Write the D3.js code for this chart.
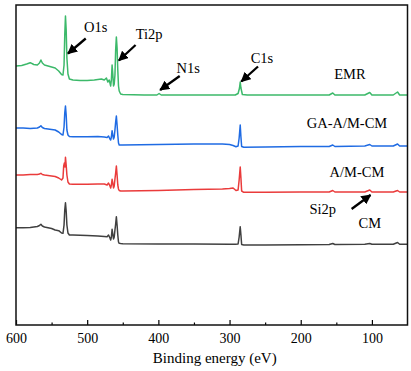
<!DOCTYPE html>
<html>
<head>
<meta charset="utf-8">
<script src="https://cdn.jsdelivr.net/npm/d3@7"></script>
<style>
    body { margin: 0; background: #fff; }
    text { font-family: "Liberation Serif", "Times New Roman", serif; fill: #000; }
</style>
</head>
<body>
<svg id="chart"></svg>
<script>
    // spectra, [binding energy (eV), stacked intensity (a.u.)]
    var emr = [[600,259],[592,259.5],[585,261],[580,262.3],[575,260.5],[570,260],[567,262],[565,265],[563,262],[560,260],[555,259],[550,258],[545,257],[540,254],[536,250.5],[534,250],[532.5,260],[531.5,290],[530.5,309],[529.5,295],[528.5,267],[527,251],[525,246],[520,245],[510,244.5],[500,244.5],[490,245],[485,245.5],[480,246],[476,245],[473,247],[471,243],[469,245],[467,239],[466,245],[465,260],[464,251],[463,239],[462,241],[461,250],[460,275],[459,288],[458,277],[457,255],[456,239],[455,234],[453,231],[450,230.5],[420,230],[402,230],[399,231.5],[396,230],[350,230],[300,230],[292,230],[288,231.5],[286,237],[285,243],[284,237],[282,230.5],[275,230],[250,230],[200,230],[160,230],[155,232],[152,230],[110,230],[103,232.5],[100,230],[70,230],[64,233],[61,230],[50,230]];
    var gaAmCm = [[600,197],[590,197],[580,196.5],[570,197],[567,198],[565,199.3],[563,197.5],[560,196.5],[550,195.5],[545,195],[540,193],[536,190.5],[534,190],[532.5,198],[531.5,212],[530.5,219],[529.5,210],[528.5,195],[527,190],[525,188.5],[520,188.3],[500,188.3],[485,188.5],[476,188],[472,187.5],[470,189],[468,186],[467,185],[466,188],[465,194.3],[464,190],[463,186],[462,188],[461,195],[460,203],[459,209],[458,200],[457,190],[456,182],[455,180],[453,180],[450,180],[400,180.5],[350,181],[310,181],[300,180.5],[295,179.5],[291,178.3],[288,179],[286.5,187],[285,200],[284,188],[283,178.5],[280,177.7],[250,178],[200,178.5],[160,178.5],[155,180],[152,178.5],[110,179],[103,180.5],[100,179],[70,179],[64,181],[61,179],[50,179]];
    var amCm = [[600,150],[590,150],[580,150.5],[570,150.5],[567,151],[565,151.7],[563,150.5],[560,150],[550,149],[545,148.5],[540,147],[536,145],[534,147],[533,159],[532,162],[531.2,158],[530.5,167.7],[529.5,160],[528.5,150],[527,143],[525,141],[520,140.7],[500,140.7],[485,141],[476,141],[472,140],[470,142],[468,139],[467,137],[466,140],[465,145.7],[464,142],[463,137],[462,139],[461,146],[460,152],[459,159],[458,150],[457,140],[456,136],[455,134.5],[453,134],[450,134],[400,134.5],[350,135.5],[310,136],[300,136.5],[295,137],[291,134.5],[288,135],[286.5,145],[285,158],[284,147],[283,134],[280,132.7],[250,132.7],[200,133],[160,133],[155,134.5],[152,133],[110,133],[103,135],[100,133],[70,133],[64,134.5],[61,133],[50,133]];
    var cm = [[600,97.3],[590,97.3],[580,97.5],[570,98.5],[567,99.5],[565,100.7],[563,99],[560,98],[550,96.5],[545,95],[540,94.3],[536,92],[534,91.7],[532.5,100],[531.5,115],[530.5,122.3],[529.5,114],[528.5,100],[527,92],[525,90],[520,90],[500,89.5],[485,89],[476,88.5],[472,88.3],[470,90],[468,87],[467,85],[466,88],[465,95.7],[464,91],[463,86],[462,88],[461,95],[460,101],[459,108.3],[458,100],[457,90],[456,83],[455,81.7],[453,81.5],[450,81.3],[400,81],[350,81],[300,80.8],[292,80.7],[288,81],[286.5,88],[285,98.3],[284,90],[283,80.5],[280,80],[250,80],[200,80.3],[160,80.5],[155,81.5],[152,80.5],[110,80.7],[103,81.5],[100,80.7],[70,80.7],[64,82.5],[61,80.7],[50,80.7]];

    var seriesNames = ["EMR", "GA-A/M-CM", "A/M-CM", "CM"];
    var seriesData = [emr, gaAmCm, amCm, cm];
    var seriesColors = ["#3cb96a", "#1f6be3", "#ea3b3b", "#404040"];

    var majorTicks = [600, 500, 400, 300, 200, 100];
    var minorTicks = [550, 450, 350, 250, 150];

    // labels in data units: [text, energy, intensity]
    var seriesLabels = [["EMR", 131, 246], ["GA-A/M-CM", 135, 196.7], ["A/M-CM", 121, 148.3], ["CM", 103, 96.7]];
    // peak callouts: [text, label energy, label intensity, arrow from E, from I, to E, to I]
    var callouts = [
        ["O1s", 488, 293.3, 502, 286.5, 527, 271.5],
        ["Ti2p", 413, 285.7, 432, 280, 455.5, 264.5],
        ["N1s", 358, 252, 370, 249, 397.5, 235],
        ["C1s", 254.5, 262, 260, 258.5, 283.5, 243.5],
        ["Si2p", 169, 111, 128.5, 116, 102, 130]
    ];

    var W = 411, H = 371;
    var plot = { left: 16, right: 407.5, top: 5, bottom: 325 };

    var svg = d3.select("#chart").attr("width", W).attr("height", H);

    var x = d3.scaleLinear().domain([600, 50]).range([plot.left, plot.right]);
    var y = d3.scaleLinear().domain([0, 320]).range([plot.bottom, plot.top]);

    svg.append("defs").append("marker")
        .attr("id", "head")
        .attr("markerUnits", "userSpaceOnUse")
        .attr("viewBox", "0 0 10 10")
        .attr("refX", 9).attr("refY", 5)
        .attr("markerWidth", 10).attr("markerHeight", 10)
        .attr("orient", "auto")
        .append("path").attr("d", "M0,0 L10,5 L0,10 z").attr("fill", "#000");

    // spectra
    var line = d3.line().x(function(d) { return x(d[0]); }).y(function(d) { return y(d[1]); });
    seriesData.forEach(function(s, i) {
        svg.append("path")
            .datum(s)
            .attr("d", line)
            .attr("fill", "none")
            .attr("stroke", seriesColors[i])
            .attr("stroke-width", 1.5)
            .attr("stroke-linejoin", "round");
    });

    // x axis, inward ticks
    var axisG = svg.append("g").attr("transform", "translate(0," + plot.bottom + ")");
    axisG.call(d3.axisBottom(x).tickValues(majorTicks).tickSizeInner(-5).tickSizeOuter(0).tickPadding(8))
        .call(function(g) { g.select(".domain").remove(); })
        .selectAll("text").style("font-size", "14px").style("font-family", "Liberation Serif");
    axisG.selectAll("line").attr("stroke", "#000").attr("stroke-width", 1.2);
    svg.append("g").attr("transform", "translate(0," + plot.bottom + ")")
        .call(d3.axisBottom(x).tickValues(minorTicks).tickSizeInner(-2.5).tickSizeOuter(0).tickFormat(""))
        .call(function(g) { g.select(".domain").remove(); })
        .selectAll("line").attr("stroke", "#000").attr("stroke-width", 1.2);

    // frame
    svg.append("rect")
        .attr("x", plot.left).attr("y", plot.top)
        .attr("width", plot.right - plot.left).attr("height", plot.bottom - plot.top)
        .attr("fill", "none").attr("stroke", "#111").attr("stroke-width", 1.5);

    svg.append("text")
        .attr("x", (plot.left + plot.right) / 2 + 3).attr("y", 363)
        .attr("text-anchor", "middle").style("font-size", "15px")
        .text("Binding energy (eV)");

    svg.selectAll(".slabel").data(seriesLabels).enter().append("text")
        .attr("class", "slabel")
        .attr("x", function(d) { return x(d[1]); })
        .attr("y", function(d) { return y(d[2]); })
        .attr("text-anchor", "middle").style("font-size", "14.5px")
        .text(function(d) { return d[0]; });

    var ann = svg.selectAll(".callout").data(callouts).enter().append("g").attr("class", "callout");
    ann.append("text")
        .attr("x", function(d) { return x(d[1]); })
        .attr("y", function(d) { return y(d[2]); })
        .attr("text-anchor", "middle").style("font-size", "14.5px")
        .text(function(d) { return d[0]; });
    ann.append("line")
        .attr("x1", function(d) { return x(d[3]); }).attr("y1", function(d) { return y(d[4]); })
        .attr("x2", function(d) { return x(d[5]); }).attr("y2", function(d) { return y(d[6]); })
        .attr("stroke", "#000").attr("stroke-width", 2.3)
        .attr("marker-end", "url(#head)");
</script>
</body>
</html>
